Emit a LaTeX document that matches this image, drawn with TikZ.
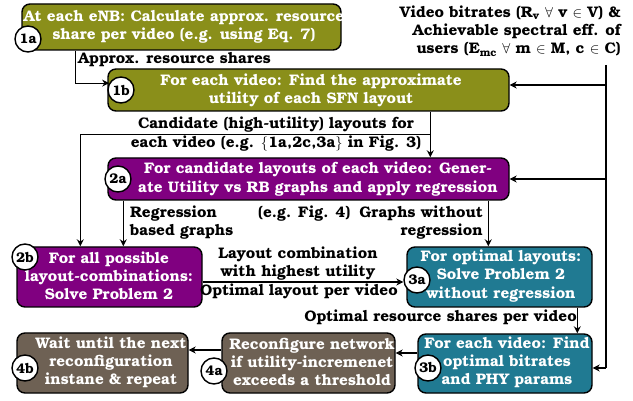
\documentclass[tikz,border=0pt]{standalone}
\usepackage{fontspec}
\setmainfont{texgyrebonum}[Extension=.otf,UprightFont=*-bold,BoldFont=*-bold,ItalicFont=*-bolditalic,BoldItalicFont=*-bolditalic]
\usetikzlibrary{arrows.meta,calc}

\definecolor{stageolive}{RGB}{138,143,26}
\definecolor{stagepurple}{RGB}{128,0,128}
\definecolor{stageteal}{RGB}{32,122,146}
\definecolor{stagebrown}{RGB}{110,97,84}

\begin{document}
\begin{tikzpicture}[x=1pt,y=-1pt,
  stagebox/.style={draw=black,line width=1.4pt,rounded corners=8pt,inner sep=0pt},
  boxtext/.style={text=white,align=center,inner sep=0pt,font=\fontsize{15.3}{18.2}\selectfont},
  lbl/.style={text=black,inner sep=0pt,font=\fontsize{15.3}{18.2}\selectfont},
  stepnum/.style={circle,draw=black,line width=1.4pt,fill=white,minimum size=26pt,inner sep=0pt,font=\fontsize{14}{15}\selectfont},
  conn/.style={draw=black,line width=1.1pt},
  arr/.style={conn,-{Stealth[length=7pt,width=7pt]}}]

\useasboundingbox (0,0) rectangle (633,401);

% stage boxes
\node[stagebox,fill=stageolive,minimum width=319pt,minimum height=46pt] (b1a) at (181.5,27) {};
\node[stagebox,fill=stageolive,minimum width=401pt,minimum height=42pt] (b1b) at (308.5,90) {};
\node[stagebox,fill=stagepurple,minimum width=401pt,minimum height=42pt] (b2a) at (308.5,179) {};
\node[stagebox,fill=stagepurple,minimum width=185pt,minimum height=60pt] (b2b) at (109.5,277) {};
\node[stagebox,fill=stageteal,minimum width=185pt,minimum height=60pt] (b3a) at (499.5,277) {};
\node[stagebox,fill=stageteal,minimum width=174pt,minimum height=59pt] (b3b) at (505,363.5) {};
\node[stagebox,fill=stagebrown,minimum width=173pt,minimum height=60pt] (b4a) at (308.5,363) {};
\node[stagebox,fill=stagebrown,minimum width=171pt,minimum height=60pt] (b4b) at (102.5,363) {};

% box texts
\node[boxtext] (t1a) at (184,27) {At each eNB: Calculate approx. resource\\share per video (e.g. using Eq. 7)};
\node[boxtext] (t1b) at (311,90) {For each video: Find the approximate\\utility of each SFN layout};
\node[boxtext] (t2a) at (318,179) {For candidate layouts of each video: Gener-\\ate Utility vs RB graphs and apply regression};
\node[boxtext] (t2b) at (109,276) {For all possible\\layout-combinations:\\Solve Problem 2};
\node[boxtext] (t3a) at (501,276) {For optimal layouts:\\Solve Problem 2\\without regression};
\node[boxtext] (t3b) at (507,362) {For each video: Find\\optimal bitrates\\and PHY params};
\node[boxtext] (t4a) at (312,362) {Reconfigure network\\if utility-incremenet\\exceeds a threshold};
\node[boxtext] (t4b) at (111,362) {Wait until the next\\reconfiguration\\instane \& repeat};

% step numbers
\node[stepnum] (c1a) at (28,39) {1a};
\node[stepnum] (c1b) at (121,90) {1b};
\node[stepnum] (c2a) at (118,179) {2a};
\node[stepnum] (c2b) at (25,257) {2b};
\node[stepnum] (c3a) at (417,280) {3a};
\node[stepnum] (c3b) at (428,368) {3b};
\node[stepnum] (c4a) at (214,371) {4a};
\node[stepnum] (c4b) at (25,368) {4b};

% external inputs
\node[lbl,align=right,anchor=east] (inp) at (621,31)
  {Video bitrates (R\textsubscript{v} $\forall$ v $\in$ V) \&\\Achievable spectral eff. of\\users (E\textsubscript{mc} $\forall$ m $\in$ M, c $\in$ C)};
\coordinate (bus) at (606,65);
\coordinate (busend) at (606,368);
\draw[conn] (bus) -- (busend);
\coordinate (e1b) at ($(b1b.east)+(0,-5)$);
\draw[arr] (bus |- e1b) -- (e1b);
\draw[arr] (bus |- b2a.east) -- (b2a.east);
\draw[arr] (busend) -- (busend -| b3b.east);

% 1a -> 1b
\coordinate (s1a) at ($(b1a.south west)+(54,0)$);
\draw[arr] (s1a) |- (c1b.150);
\node[lbl,anchor=west] (l1) at (78,60) {Approx. resource shares};

% 1b -> 2a and 2b
\coordinate (s1b) at ($(b1b.south west)+(323,0)$);
\coordinate (j1) at ($(s1b)+(0,23)$);
\coordinate (n2b) at ($(b2b.north west)+(64,0)$);
\draw[arr] (s1b) -- (s1b |- b2a.north);
\draw[arr] (j1) -| (n2b);
\node[lbl,align=center] (l2) at (276,134) {Candidate (high-utility) layouts for\\[1pt]each video (e.g. $\{$1a,2c,3a$\}$ in Fig. 3)};

% 2a -> 2b and 3a
\coordinate (s2a) at ($(b2a.south west)+(16,0)$);
\draw[arr] (s2a) -- (s2a |- b2b.north);
\coordinate (r2a) at ($(b2a.south west)+(381,0)$);
\draw[arr] (r2a) -- (r2a |- b3a.north);
\node[lbl,align=left,anchor=west] (l3) at (130,222.5) {Regression\\based graphs};
\node[lbl,anchor=west] (l4) at (258,214) {(e.g. Fig. 4)};
\node[lbl,align=right,anchor=east] (l5) at (483,222.5) {Graphs without\\regression};

% 2b -> 3a
\coordinate (s2b) at ($(b2b.east)+(0,5)$);
\draw[arr] (s2b) -- (s2b -| c3a.west);
\node[lbl,align=center] (l6) at (298,263.5) {Layout combination\\with highest utility};
\node[lbl] (l7) at (299,291) {Optimal layout per video};

% 3a -> 3b
\coordinate (s3a) at ($(b3a.south west)+(171,0)$);
\draw[arr] (s3a) -- (s3a |- b3b.north);
\node[lbl,anchor=east] (l8) at (577,317) {Optimal resource shares per video};

% 3b -> 4a -> 4b
\coordinate (w3b) at ($(b3b.west)+(0,-10.5)$);
\draw[arr] (w3b) -- (w3b -| b4a.east);
\coordinate (w4a) at ($(b4a.west)+(0,-13)$);
\draw[arr] (w4a) -- (w4a -| b4b.east);
\end{tikzpicture}
\end{document}
